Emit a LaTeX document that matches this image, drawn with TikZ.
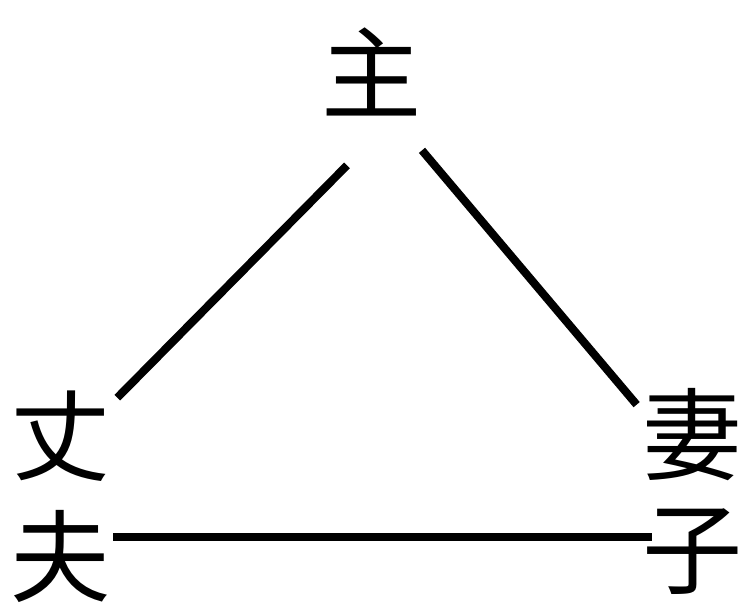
\documentclass[tikz,border=0pt]{standalone}
\usepackage{fontspec}
\newfontfamily\cjk{Noto Sans CJK SC}
\begin{document}
\begin{tikzpicture}[
  word/.style={inner sep=0pt, minimum width=2.1cm, minimum height=2.1cm, font=\cjk\fontsize{57}{57}\selectfont},
  link/.style={line width=4.6pt, black},
]
  \useasboundingbox (0,0) rectangle (14.84,12.2);

  % Characters
  \node[word] (zhu) at (7.44, 10.76) {主};
  \node[word] (zhang) at (1.22, 3.48) {丈};
  \node[word] (fu) at (1.22, 1.08) {夫};
  \node[word] (qi) at (13.86, 3.50) {妻};
  \node[word] (zi) at (13.86, 1.16) {子};

  % Triangle sides
  \draw[link] ([shift={(-0.50,-0.81)}]zhu.south) -- ([shift={(0.07,-0.29)}]zhang.north east);
  \draw[link] ([shift={(1.00,-0.51)}]zhu.south) -- ([shift={(-0.07,-0.45)}]qi.north west);
  \draw[link] ([shift={(-0.01,0.38)}]fu.east) -- ([shift={(0.23,0.30)}]zi.west);
\end{tikzpicture}
\end{document}
